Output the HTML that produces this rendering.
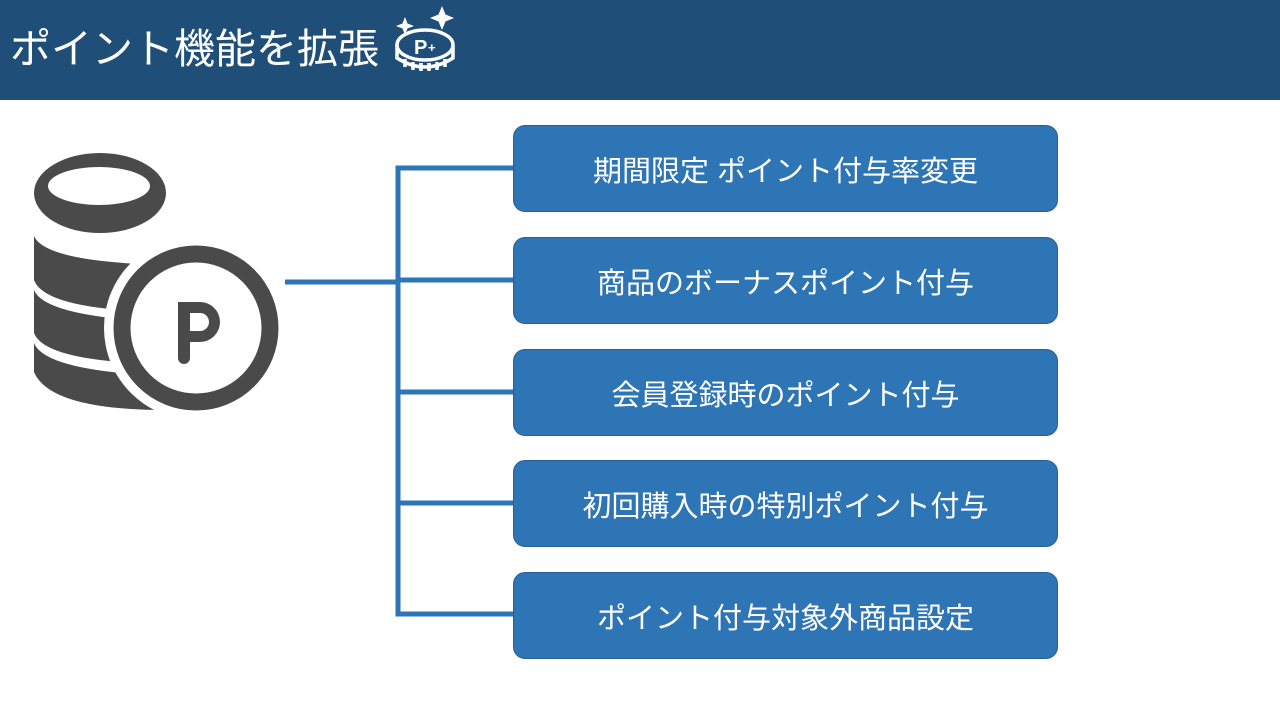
<!DOCTYPE html>
<html><head><meta charset="utf-8"><style>
body{margin:0;width:1280px;height:720px;background:#fff;position:relative;overflow:hidden;font-family:"Liberation Sans","Noto Sans CJK JP",sans-serif}
.hdr{position:absolute;left:0;top:0;width:1280px;height:100px;background:#1f4e79}
.title{position:absolute;left:10px;top:22px;color:#fff;font-size:41px;line-height:54px;white-space:nowrap;letter-spacing:0px}
.box{position:absolute;left:513px;width:545px;height:87px;background:#2e75b6;border:1px solid #2a5f96;border-radius:12px;color:#fff;font-size:29px;display:flex;align-items:center;justify-content:center;box-sizing:border-box}
</style></head><body>
<div class="hdr"></div>
<div class="title">ポイント機能を拡張</div>
<svg style="position:absolute;left:0;top:0" width="1280" height="720">
<g fill="none" stroke="#fff" stroke-width="3.5">
<ellipse cx="425" cy="45" rx="28" ry="15"/>
<path d="M397 45 v13 q28 18 56 0 v-13"/>
<line x1="405" y1="59" x2="405" y2="67"/><line x1="413" y1="62" x2="413" y2="70"/><line x1="421" y1="63" x2="421" y2="71"/><line x1="429" y1="63" x2="429" y2="71"/><line x1="437" y1="62" x2="437" y2="70"/><line x1="445" y1="59" x2="445" y2="67"/>
</g>
<text x="414" y="54" fill="#fff" font-size="20" font-weight="bold" font-family="Liberation Sans">P</text>
<text x="428" y="52" fill="#fff" font-size="13" font-weight="bold" font-family="Liberation Sans">+</text>
<path d="M405 17 l2.5 6.5 6.5 2.5 -6.5 2.5 -2.5 6.5 -2.5 -6.5 -6.5 -2.5 6.5 -2.5z" fill="#fff"/>
<path d="M442 6 l3.5 8.5 8.5 3.5 -8.5 3.5 -3.5 8.5 -3.5 -8.5 -8.5 -3.5 8.5 -3.5z" fill="#fff"/>
<g fill="#4a4a4a">
<path fill-rule="evenodd" d="M34 193 a66 40 0 1 0 132 0 a66 40 0 1 0 -132 0z M48 186 a51 19 0 1 0 102 0 a51 19 0 1 0 -102 0z"/>
<path d="M34 236 Q45 262 166 265 L166 312 Q45 310 34 280 Z"/>
<path d="M34 290 Q45 317 166 322 L166 364 Q45 362 34 333 Z"/>
<path d="M34 343 Q45 371 166 376 L166 410 Q50 410 34 372 Z"/>
</g>
<circle cx="196" cy="328" r="92" fill="#fff"/>
<circle cx="196" cy="328" r="74" fill="none" stroke="#4a4a4a" stroke-width="17"/>
<path fill="#4a4a4a" fill-rule="evenodd" d="M178 302 h22 a20 20 0 0 1 0 40 h-10 v16 a6 6 0 0 1 -12 0z M190 313 v18 h10 a9 9 0 0 0 0 -18z"/>
<g stroke="#2e75b6" stroke-width="5" fill="none">
<line x1="285" y1="282" x2="398" y2="282"/>
<path d="M513 168 H398 V614 H513"/>
<line x1="398" y1="280" x2="513" y2="280"/>
<line x1="398" y1="392" x2="513" y2="392"/>
<line x1="398" y1="503" x2="513" y2="503"/>
</g>
</svg>
<div class="box" style="top:125px">期間限定 ポイント付与率変更</div>
<div class="box" style="top:237px">商品のボーナスポイント付与</div>
<div class="box" style="top:349px">会員登録時のポイント付与</div>
<div class="box" style="top:460px">初回購入時の特別ポイント付与</div>
<div class="box" style="top:572px">ポイント付与対象外商品設定</div>
</body></html>
